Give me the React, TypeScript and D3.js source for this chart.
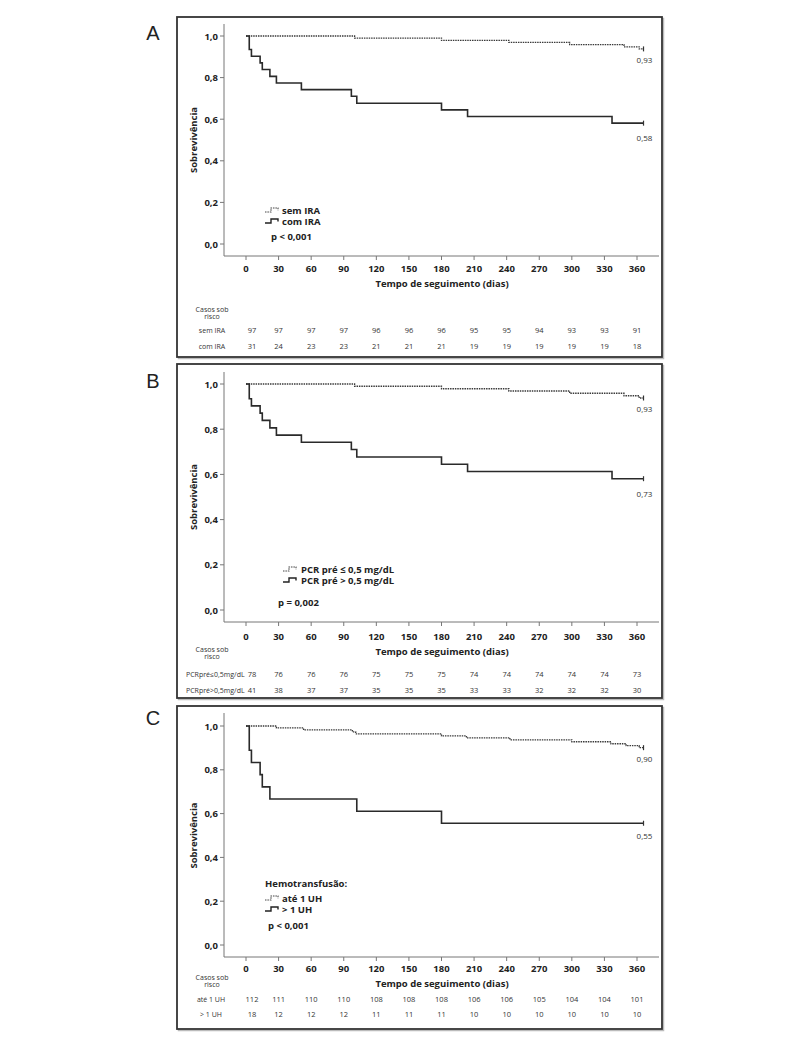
import React from "react";
import * as d3 from "d3";

// ---------- shared axis data ----------
const xTicks = [0, 30, 60, 90, 120, 150, 180, 210, 240, 270, 300, 330, 360];
const yTicks = [0, 0.2, 0.4, 0.6, 0.8, 1.0];
const yTickLabels = ["0,0", "0,2", "0,4", "0,6", "0,8", "1,0"];
const xTitle = "Tempo de seguimento (dias)";
const yTitle = "Sobrevivência";

// ---------- Panel A ----------
const aSemTime = [0, 100, 180, 242, 298, 348, 362, 366];
const aSemSurv = [1.0, 0.99, 0.979, 0.969, 0.959, 0.948, 0.938, 0.938];
const aComTime = [0, 3, 5, 13, 15, 22, 28, 51, 97, 102, 180, 204, 337, 366];
const aComSurv = [1.0, 0.935, 0.903, 0.871, 0.839, 0.806, 0.774, 0.742, 0.71, 0.677, 0.645, 0.613, 0.581, 0.581];
const aLegend = ["sem IRA", "com IRA"];
const aRiskLabels = ["sem IRA", "com IRA"];
const aRiskSem = [97, 97, 97, 97, 96, 96, 96, 95, 95, 94, 93, 93, 91];
const aRiskCom = [31, 24, 23, 23, 21, 21, 21, 19, 19, 19, 19, 19, 18];
const aEndLabels = ["0,93", "0,58"];

// ---------- Panel B ----------
const bLowTime = [0, 100, 180, 242, 298, 348, 362, 366];
const bLowSurv = [1.0, 0.99, 0.979, 0.969, 0.959, 0.948, 0.938, 0.938];
const bHighTime = [0, 3, 5, 13, 15, 22, 28, 51, 97, 102, 180, 204, 337, 366];
const bHighSurv = [1.0, 0.935, 0.903, 0.871, 0.839, 0.806, 0.774, 0.742, 0.71, 0.677, 0.645, 0.613, 0.581, 0.581];
const bLegend = ["PCR pré ≤ 0,5 mg/dL", "PCR pré > 0,5 mg/dL"];
const bRiskLabels = ["PCRpré≤0,5mg/dL", "PCRpré>0,5mg/dL"];
const bRiskLow = [78, 76, 76, 76, 75, 75, 75, 74, 74, 74, 74, 74, 73];
const bRiskHigh = [41, 38, 37, 37, 35, 35, 35, 33, 33, 32, 32, 32, 30];
const bEndLabels = ["0,93", "0,73"];

// ---------- Panel C ----------
const cAteTime = [0, 28, 53, 98, 101, 180, 203, 243, 300, 336, 350, 362, 366];
const cAteSurv = [1.0, 0.991, 0.982, 0.973, 0.964, 0.955, 0.946, 0.937, 0.928, 0.919, 0.91, 0.901, 0.901];
const cMaisTime = [0, 3, 5, 13, 15, 22, 102, 180, 366];
const cMaisSurv = [1.0, 0.889, 0.833, 0.778, 0.722, 0.667, 0.611, 0.556, 0.556];
const cLegend = ["até 1 UH", "> 1 UH"];
const cRiskLabels = ["até 1 UH", "> 1 UH"];
const cRiskAte = [112, 111, 110, 110, 108, 108, 108, 106, 106, 105, 104, 104, 101];
const cRiskMais = [18, 12, 12, 12, 11, 11, 11, 10, 10, 10, 10, 10, 10];
const cEndLabels = ["0,90", "0,55"];

const FONT = "'Open Sans', 'DejaVu Sans', sans-serif";

type Layout = {
  letter: string;
  letterY: number;
  top: number;
  bottom: number;
  y1: number;
  y0: number;
  axisY: number;
  axisTop: number;
  tickLabY: number;
  titleY: number;
  casosY: number;
  rowY: [number, number];
  endOffsets: [number, number];
};

function Panel(props: {
  L: Layout;
  dotted: { t: number[]; s: number[] };
  solid: { t: number[]; s: number[] };
  legend: string[];
  legendHeader?: string;
  legendX: number;
  legendY: number;
  legendTextX: number;
  pText: string;
  pX: number;
  pY: number;
  riskLabels: string[];
  riskAnchor: "middle" | "start";
  riskLabelX: number;
  risk1: number[];
  risk2: number[];
  endLabels: string[];
}) {
  const { L } = props;
  const x = d3.scaleLinear().domain([0, 360]).range([246, 637]);
  const y = d3.scaleLinear().domain([0, 1]).range([L.y0, L.y1]);
  const line = d3
    .line<[number, number]>()
    .x((d) => x(d[0]))
    .y((d) => y(d[1]))
    .curve(d3.curveStepAfter);
  const pts = (t: number[], s: number[]) => t.map((v, i) => [v, s[i]] as [number, number]);
  const dPts = pts(props.dotted.t, props.dotted.s);
  const sPts = pts(props.solid.t, props.solid.s);
  const dEnd = dPts[dPts.length - 1];
  const sEnd = sPts[sPts.length - 1];
  const axisColor = "#777";
  const sym = (x0: number, yc: number, dashed: boolean) => (
    <path
      d={`M${x0},${yc + 2} h6 v-4 h7 v2.5`}
      fill="none"
      stroke={dashed ? "#444" : "#222"}
      strokeWidth={dashed ? 1.1 : 1.4}
      strokeDasharray={dashed ? "1.5,0.9" : undefined}
    />
  );
  return (
    <g>
      <rect x={178.5} y={L.top + 1.5} width={485} height={L.bottom - L.top} fill="none" stroke="#bbb" strokeWidth={1.5} />
      <rect x={177} y={L.top} width={485} height={L.bottom - L.top} fill="#fff" stroke="#333" strokeWidth={1.8} />
      <text x={153} y={L.letterY} textAnchor="middle" fontFamily="'Liberation Sans', Arial, sans-serif" fontSize={20} fill="#222">
        {L.letter}
      </text>
      {/* axes */}
      <line x1={224} x2={224} y1={L.axisTop} y2={L.axisY} stroke={axisColor} strokeWidth={1} />
      <line x1={224} x2={659} y1={L.axisY} y2={L.axisY} stroke={axisColor} strokeWidth={1} />
      {yTicks.map((v, i) => (
        <g key={"y" + i}>
          <line x1={220} x2={224} y1={y(v)} y2={y(v)} stroke={axisColor} />
          <text x={218} y={y(v) + 3.5} textAnchor="end" fontFamily={FONT} fontWeight="bold" fontSize={9.5} fill="#222">
            {yTickLabels[i]}
          </text>
        </g>
      ))}
      {xTicks.map((v, i) => (
        <g key={"x" + i}>
          <line x1={x(v)} x2={x(v)} y1={L.axisY} y2={L.axisY + 4} stroke={axisColor} />
          <text x={x(v)} y={L.tickLabY} textAnchor="middle" fontFamily={FONT} fontWeight="bold" fontSize={9.5} fill="#222">
            {String(v)}
          </text>
        </g>
      ))}
      <text x={442} y={L.titleY} textAnchor="middle" fontFamily={FONT} fontWeight="bold" fontSize={9.5} fill="#222">
        {xTitle}
      </text>
      <text
        transform={`translate(197,${(L.y0 + L.y1) / 2}) rotate(-90)`}
        textAnchor="middle"
        fontFamily={FONT}
        fontWeight="bold"
        fontSize={9.5}
        fill="#222"
      >
        {yTitle}
      </text>
      {/* curves */}
      <path d={line(dPts) || ""} fill="none" stroke="#3a3a3a" strokeWidth={1.3} strokeDasharray="1.5,0.9" />
      <path d={line(sPts) || ""} fill="none" stroke="#2a2a2a" strokeWidth={1.6} />
      {[dEnd, sEnd].map((p, i) => (
        <g key={"end" + i}>
          <line x1={x(p[0])} x2={x(p[0])} y1={y(p[1]) - 2.5} y2={y(p[1]) + 2.5} stroke="#333" strokeWidth={1.2} />
          <text x={x(p[0]) + 1} y={y(p[1]) + L.endOffsets[i]} textAnchor="middle" fontFamily={FONT} fontSize={8} fill="#333">
            {props.endLabels[i]}
          </text>
        </g>
      ))}
      {/* legend */}
      {props.legendHeader && (
        <text x={props.legendX} y={props.legendY - 15 + 3.5} fontFamily={FONT} fontWeight="bold" fontSize={9.5} fill="#222">
          {props.legendHeader}
        </text>
      )}
      {props.legend.map((lab, i) => (
        <g key={"lg" + i}>
          {sym(props.legendX, props.legendY + i * 11, i === 0)}
          <text x={props.legendTextX} y={props.legendY + i * 11 + 3.5} fontFamily={FONT} fontWeight="bold" fontSize={9.5} fill="#222">
            {lab}
          </text>
        </g>
      ))}
      <text x={props.pX} y={props.pY + 3.5} fontFamily={FONT} fontWeight="bold" fontSize={9.5} fill="#222">
        {props.pText}
      </text>
      {/* risk table */}
      <text x={212} y={L.casosY} textAnchor="middle" fontFamily={FONT} fontSize={7} fill="#333">
        Casos sob
      </text>
      <text x={212} y={L.casosY + 7} textAnchor="middle" fontFamily={FONT} fontSize={7} fill="#333">
        risco
      </text>
      {[props.risk1, props.risk2].map((row, r) => (
        <g key={"r" + r}>
          <text
            x={props.riskLabelX}
            y={L.rowY[r] + 2.6}
            textAnchor={props.riskAnchor}
            fontFamily={FONT}
            fontSize={7}
            fill="#333"
          >
            {props.riskLabels[r]}
          </text>
          {row.map((v, i) => (
            <text
              key={i}
              x={x(xTicks[i]) + (i === 0 ? 6 : 0)}
              y={L.rowY[r] + 2.6}
              textAnchor="middle"
              fontFamily={FONT}
              fontSize={7.5}
              fill="#333"
            >
              {String(v)}
            </text>
          ))}
        </g>
      ))}
    </g>
  );
}

export default function App() {
  const LA: Layout = {
    letter: "A", letterY: 40, top: 17, bottom: 357, y1: 36, y0: 244, axisY: 256, axisTop: 24,
    tickLabY: 271.5, titleY: 286.5, casosY: 312, rowY: [330, 346], endOffsets: [14, 18],
  };
  const LB: Layout = {
    letter: "B", letterY: 388, top: 364, bottom: 698, y1: 384, y0: 610, axisY: 622, axisTop: 372,
    tickLabY: 639.5, titleY: 654.5, casosY: 652, rowY: [674, 690], endOffsets: [14, 18],
  };
  const LC: Layout = {
    letter: "C", letterY: 725, top: 706, bottom: 1029, y1: 726, y0: 945, axisY: 957, axisTop: 713,
    tickLabY: 971.5, titleY: 986.5, casosY: 980, rowY: [999, 1014], endOffsets: [14, 16],
  };
  return (
    <svg width={788} height={1046} style={{ display: "block", position: "absolute", left: 0, top: 0 }}>
      <rect x={0} y={0} width={788} height={1046} fill="#fff" />
      <Panel
        L={LA}
        dotted={{ t: aSemTime, s: aSemSurv }}
        solid={{ t: aComTime, s: aComSurv }}
        legend={aLegend}
        legendX={265}
        legendY={210}
        legendTextX={282}
        pText="p < 0,001"
        pX={271}
        pY={236}
        riskLabels={aRiskLabels}
        riskAnchor="middle"
        riskLabelX={212}
        risk1={aRiskSem}
        risk2={aRiskCom}
        endLabels={aEndLabels}
      />
      <Panel
        L={LB}
        dotted={{ t: bLowTime, s: bLowSurv }}
        solid={{ t: bHighTime, s: bHighSurv }}
        legend={bLegend}
        legendX={283}
        legendY={569}
        legendTextX={301}
        pText="p = 0,002"
        pX={278}
        pY={602}
        riskLabels={bRiskLabels}
        riskAnchor="start"
        riskLabelX={186}
        risk1={bRiskLow}
        risk2={bRiskHigh}
        endLabels={bEndLabels}
      />
      <Panel
        L={LC}
        dotted={{ t: cAteTime, s: cAteSurv }}
        solid={{ t: cMaisTime, s: cMaisSurv }}
        legend={cLegend}
        legendHeader="Hemotransfusão:"
        legendX={265}
        legendY={898}
        legendTextX={282}
        pText="p < 0,001"
        pX={268}
        pY={925}
        riskLabels={cRiskLabels}
        riskAnchor="middle"
        riskLabelX={211}
        risk1={cRiskAte}
        risk2={cRiskMais}
        endLabels={cEndLabels}
      />
    </svg>
  );
}
